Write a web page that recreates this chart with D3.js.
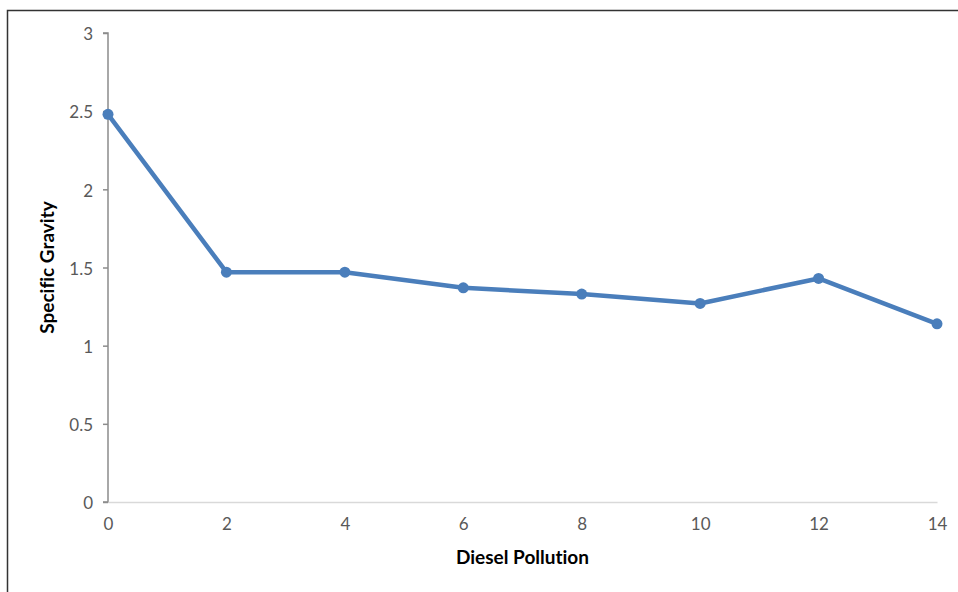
<!DOCTYPE html>
<html>
<head>
<meta charset="utf-8">
<script src="https://cdn.jsdelivr.net/npm/d3@7"></script>
<style>
  html, body { margin: 0; padding: 0; background: #fff; }
  svg { display: block; }
  text { font-family: Lato, "Open Sans", "Liberation Sans", sans-serif; font-variant-ligatures: none; }
</style>
</head>
<body>
<svg id="chart" width="958" height="592"></svg>
<script>
// Specific gravity measured against diesel pollution level
const pollution = [0, 2, 4, 6, 8, 10, 12, 14];
const gravity = [2.48, 1.47, 1.47, 1.37, 1.33, 1.27, 1.43, 1.14];
const xTicks = [0, 2, 4, 6, 8, 10, 12, 14];
const yTicks = [0, 0.5, 1, 1.5, 2, 2.5, 3];

const svg = d3.select("#chart");
const margin = { left: 108, right: 21, top: 33, bottom: 90 };
const W = 958, H = 592;

const x = d3.scaleLinear().domain([0, 14]).range([margin.left, W - margin.right]);
const y = d3.scaleLinear().domain([0, 3]).range([H - margin.bottom, margin.top]);

// chart frame (top and left edges)
svg.append("path")
  .attr("d", `M7.5,${H} V10.5 H${W}`)
  .attr("fill", "none")
  .attr("stroke", "#333")
  .attr("stroke-width", 1.5);

// y axis
const yAxis = svg.append("g")
  .attr("transform", `translate(${margin.left},0)`)
  .call(d3.axisLeft(y).tickValues(yTicks).tickSize(5).tickPadding(10).tickFormat(d3.format("")));
yAxis.attr("font-family", null).attr("font-size", null);
yAxis.select(".domain").attr("stroke", "#8c8c8c").attr("stroke-width", 1.5)
  .attr("d", `M-5,${y(3)}H0V${y(0)}H-5`);
yAxis.selectAll(".tick line").attr("stroke", "#8c8c8c").attr("stroke-width", 1.5);
yAxis.selectAll(".tick text").attr("fill", "#595959").attr("font-size", 17).attr("dy", "0.4em");

// x axis
const xAxis = svg.append("g")
  .attr("transform", `translate(0,${y(0)})`)
  .call(d3.axisBottom(x).tickValues(xTicks).tickSize(0).tickPadding(16));
xAxis.attr("font-family", null).attr("font-size", null);
xAxis.select(".domain").attr("stroke", "#d9d9d9").attr("stroke-width", 1.5);
xAxis.selectAll(".tick text").attr("fill", "#595959").attr("font-size", 17);

// axis titles
svg.append("text")
  .attr("x", (x(0) + x(14)) / 2)
  .attr("y", 564)
  .attr("text-anchor", "middle")
  .attr("font-size", 19)
  .attr("font-weight", "bold")
  .attr("fill", "#000")
  .text("Diesel Pollution");

svg.append("text")
  .attr("transform", `translate(54,${(y(0) + y(3)) / 2}) rotate(-90)`)
  .attr("text-anchor", "middle")
  .attr("font-size", 19)
  .attr("font-weight", "bold")
  .attr("fill", "#000")
  .text("Specific Gravity");

// data line and markers
const pts = pollution.map((p, i) => [p, gravity[i]]);
const blue = "#4a7ebb";
svg.append("path")
  .datum(pts)
  .attr("fill", "none")
  .attr("stroke", blue)
  .attr("stroke-width", 4.5)
  .attr("stroke-linejoin", "round")
  .attr("d", d3.line().x(d => x(d[0])).y(d => y(d[1])));

svg.selectAll("circle.pt")
  .data(pts)
  .join("circle")
  .attr("class", "pt")
  .attr("cx", d => x(d[0]))
  .attr("cy", d => y(d[1]))
  .attr("r", 5.5)
  .attr("fill", blue);
</script>
</body>
</html>
